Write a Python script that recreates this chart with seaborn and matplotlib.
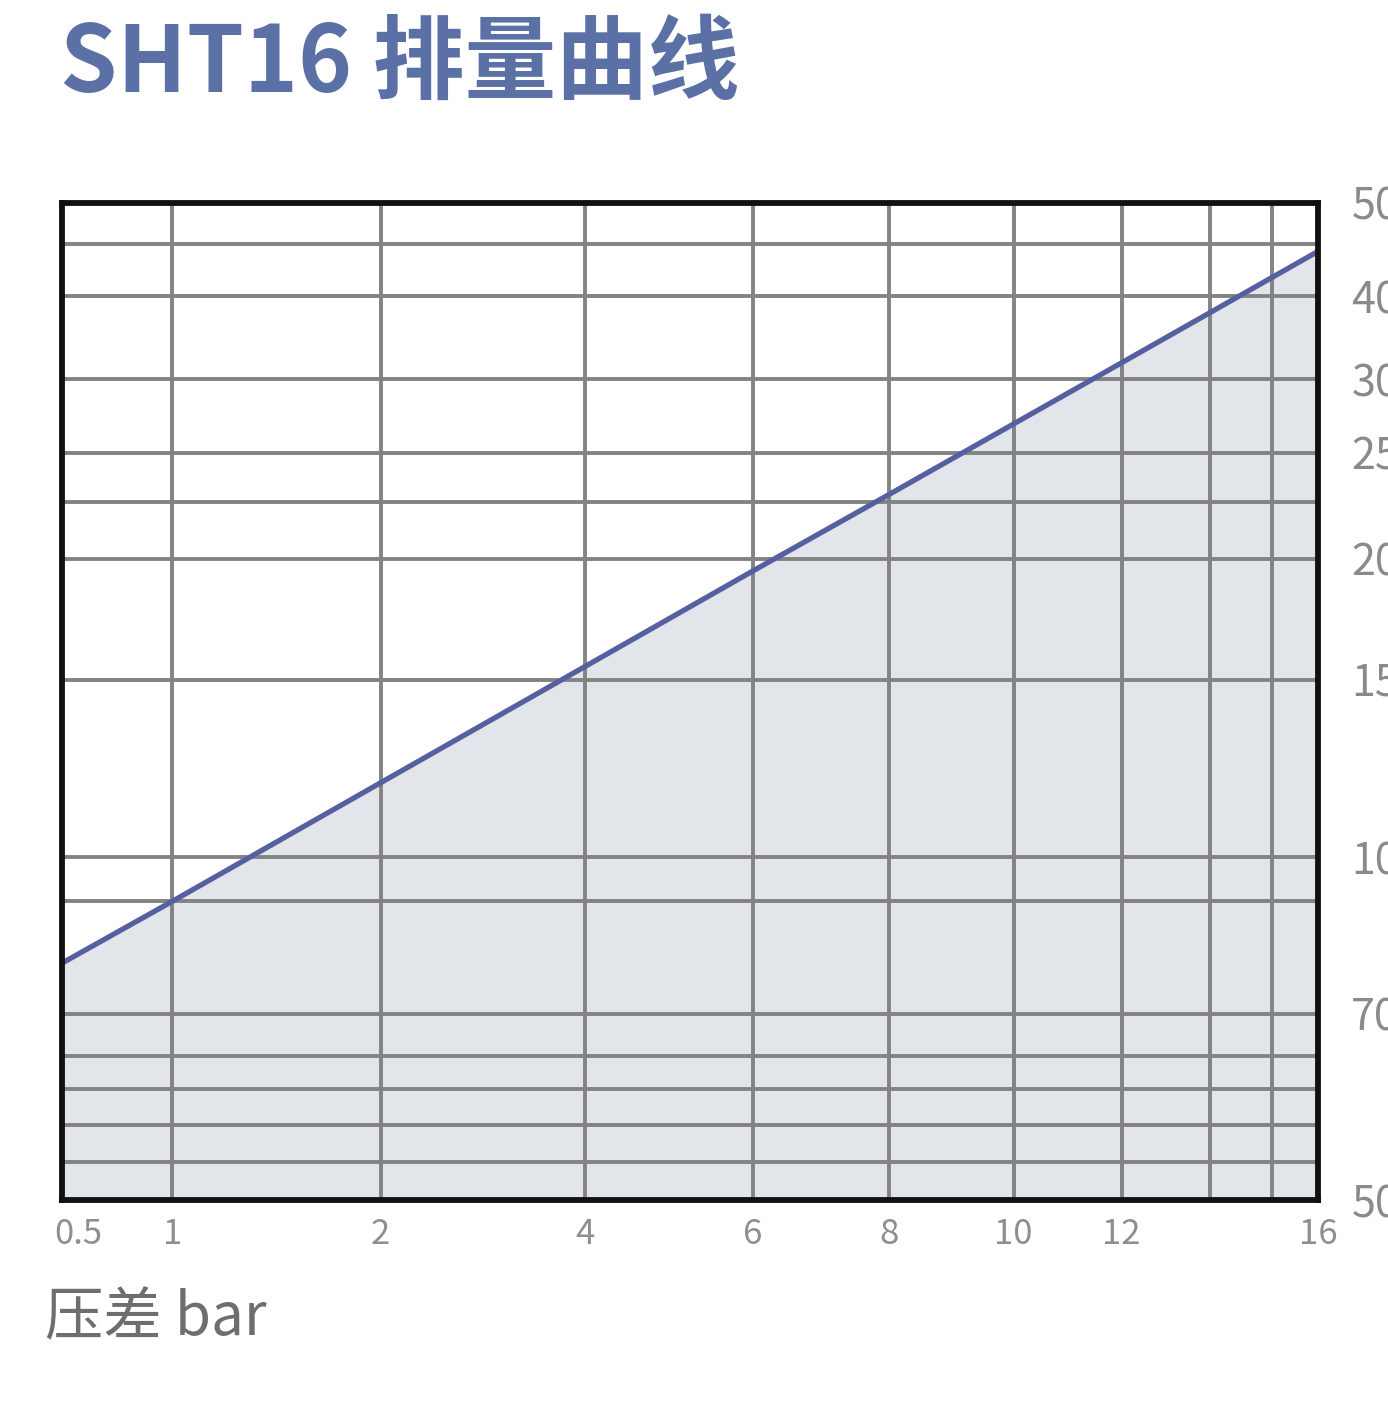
import numpy as np
import pandas as pd
import matplotlib
matplotlib.use("Agg")
import matplotlib.pyplot as plt
import matplotlib.transforms as mtransforms
import seaborn as sns

# ---- data ----
pressure_bar = [0.5, 1, 2, 4, 6, 8, 10, 12, 16]
flow_lpm = [79, 90, 121, 155.5, 195, 228.7, 269.5, 320, 443]
x_tick_values = [0.5, 1, 2, 4, 6, 8, 10, 12, 16]
x_tick_labels = ["0.5", "1", "2", "4", "6", "8", "10", "12", "16"]
x_extra_grid = [14, 15]
y_tick_values = [50, 70, 100, 150, 200, 250, 300, 400, 500]
y_tick_labels = ["50", "70", "100", "150", "200", "250", "300", "400", "500"]
y_extra_grid = [54, 58, 62, 66, 90, 225, 450]
title = "SHT16 排量曲线"
xlabel = "压差 bar"

# ---- the chart's own (non-uniform) axis scales ----
x_scale_vals = [0.5, 1, 2, 4, 6, 8, 10, 12, 14, 15, 16]
x_scale_pos = [0, 110, 318, 522, 690, 826, 950, 1058, 1146, 1208, 1254]
y_scale_vals = [50, 54, 58, 62, 66, 70, 90, 100, 150, 200, 225, 250, 300, 400, 450, 500]
y_scale_pos = [0, 38, 75, 111, 144, 186, 298, 342, 519, 640, 697, 746, 819, 902, 954, 995]


def make_funcs(vals, pos):
    vals = np.asarray(vals, float)
    pos = np.asarray(pos, float)
    slope_lo = (pos[1] - pos[0]) / (vals[1] - vals[0])
    slope_hi = (pos[-1] - pos[-2]) / (vals[-1] - vals[-2])

    def fwd(v):
        v = np.asarray(v, float)
        out = np.interp(v, vals, pos)
        out = np.where(v < vals[0], pos[0] + (v - vals[0]) * slope_lo, out)
        out = np.where(v > vals[-1], pos[-1] + (v - vals[-1]) * slope_hi, out)
        return out

    def inv(p):
        p = np.asarray(p, float)
        out = np.interp(p, pos, vals)
        out = np.where(p < pos[0], vals[0] + (p - pos[0]) / slope_lo, out)
        out = np.where(p > pos[-1], vals[-1] + (p - pos[-1]) / slope_hi, out)
        return out

    return fwd, inv


sns.set_theme(style="white")
plt.rcParams["font.family"] = ["Noto Sans CJK SC", "DejaVu Sans"]

fig = plt.figure(figsize=(13.88, 14.2), dpi=100)
ax = fig.add_axes([62 / 1388, 1 - 1200 / 1420, (1318 - 62) / 1388, (1200 - 203) / 1420])

ax.set_xscale("function", functions=make_funcs(x_scale_vals, x_scale_pos))
ax.set_yscale("function", functions=make_funcs(y_scale_vals, y_scale_pos))
ax.set_xlim(0.5, 16)
ax.set_ylim(50, 500)

df = pd.DataFrame({"pressure": pressure_bar, "flow": flow_lpm})
ax.fill_between(df["pressure"], df["flow"], 50, color="#e2e5ea", zorder=0, linewidth=0)

grid_kw = dict(color="#838383", linewidth=2.8, zorder=1)
for v in x_tick_values + x_extra_grid:
    ax.axvline(v, **grid_kw)
for v in y_tick_values + y_extra_grid:
    ax.axhline(v, **grid_kw)

sns.lineplot(data=df, x="pressure", y="flow", ax=ax, color="#5660a0", linewidth=3.8,
             zorder=3, estimator=None, sort=False)

ax.set_xticks(x_tick_values)
ax.set_xticklabels(x_tick_labels)
ax.set_xticks([], minor=True)
ax.yaxis.tick_right()
ax.set_yticks(y_tick_values)
ax.set_yticklabels(y_tick_labels)
ax.set_yticks([], minor=True)
ax.tick_params(axis="x", length=0, pad=12, labelsize=25, labelcolor="#8f8f8f")
ax.tick_params(axis="y", length=0, pad=24, labelsize=31, labelcolor="#8a8a8a")
ax.set_xlabel("")
ax.set_ylabel("")
# the first tick label sits a little to the right of its gridline
first = ax.get_xticklabels()[0]
first.set_transform(first.get_transform() +
                    mtransforms.ScaledTranslation(16 / 100, 0, fig.dpi_scale_trans))

for s in ax.spines.values():
    s.set_visible(True)
    s.set_color("#111111")
    s.set_linewidth(4.2)
    s.set_zorder(5)

fig.text(60 / 1388, 1 - 92 / 1420, title, fontsize=66, fontweight="bold",
         color="#5b71a6", va="baseline", ha="left")
fig.text(45 / 1388, 1 - 1335 / 1420, xlabel, fontsize=42, color="#6e6e6e",
         va="baseline", ha="left")

fig.savefig("out.png", dpi=100, facecolor="white")
